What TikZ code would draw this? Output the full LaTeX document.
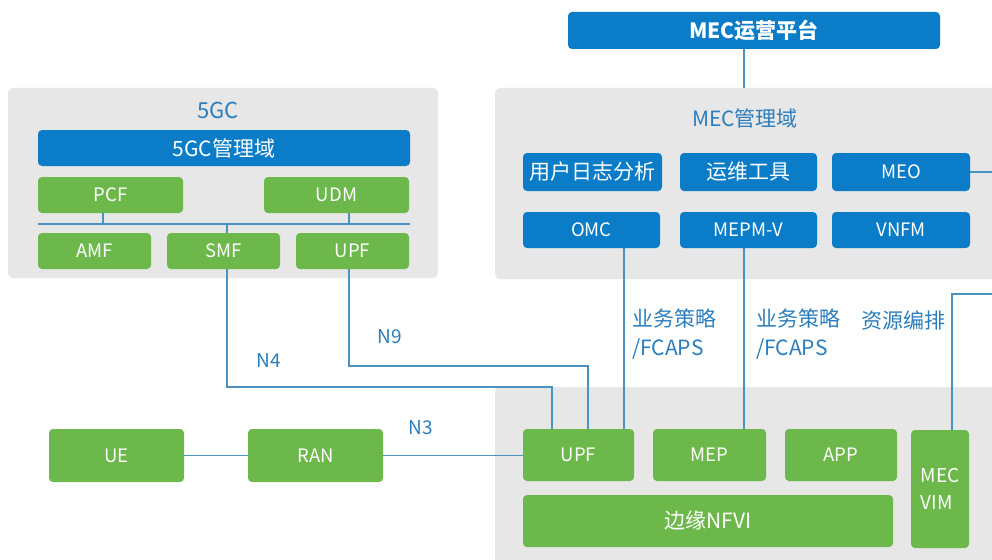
\documentclass[tikz,border=0pt]{standalone}
\usepackage{fontspec}
\setmainfont{Noto Sans CJK SC}
\usetikzlibrary{calc}
\definecolor{mblue}{HTML}{0B7DC8}
\definecolor{mgreen}{HTML}{6DB84B}
\definecolor{mgrey}{HTML}{E7E7E7}
\definecolor{mline}{HTML}{4A92C2}
\definecolor{mtext}{HTML}{2B7EBD}
\tikzset{
  panel/.style={fill=mgrey, draw=none, rounded corners=5pt, inner sep=0pt},
  bluebox/.style={fill=mblue, draw=none, rounded corners=4pt, inner sep=0pt, text=white, font=\fontsize{18.5}{22}\selectfont},
  greenbox/.style={fill=mgreen, draw=none, rounded corners=4pt, inner sep=0pt, text=white, font=\fontsize{18.5}{22}\selectfont},
  cjk/.style={font=\fontsize{21}{24}\selectfont},
  lbl/.style={text=mtext, inner sep=0pt, font=\fontsize{19}{29}\selectfont},
  cjklbl/.style={text=mtext, inner sep=0pt, font=\fontsize{21}{29}\selectfont},
  conn/.style={draw=mline, line width=1.1pt},
}
\begin{document}
\begin{tikzpicture}[x=1pt,y=-1pt]
\useasboundingbox (0,0) rectangle (992,559);
\fill[white] (0,0) rectangle (992,559);
% panels
\node[panel, minimum width=430, minimum height=190] (bg5gc) at (223,183) {};
\node[panel, minimum width=520, minimum height=191] (bgmec) at (755,183.5) {};
\node[panel, minimum width=520, minimum height=188] (bgedge) at (755,481) {};
% 5GC
\node[lbl, font=\fontsize{22}{24}\selectfont] (t5gc) at (218,110) {5GC};
\node[bluebox, cjk, minimum width=372, minimum height=36] (mgmt5) at (224,148) {5GC管理域};
\node[greenbox, minimum width=145, minimum height=36] (pcf) at (110.5,195) {PCF};
\node[greenbox, minimum width=145, minimum height=36] (udm) at (336.5,195) {UDM};
\node[greenbox, minimum width=113, minimum height=36] (amf) at (94.5,251) {AMF};
\node[greenbox, minimum width=113, minimum height=36] (smf) at (223.5,251) {SMF};
\node[greenbox, minimum width=113, minimum height=36] (upfc) at (352.5,251) {UPF};
\coordinate (busL) at (38,224);
\coordinate (busR) at (410,224);
\draw[conn] (busL) -- (busR);
\draw[conn] ([xshift=-7.5]pcf.south) -- ([xshift=-7.5]pcf.south |- busL);
\draw[conn] ([xshift=12.5]udm.south) -- ([xshift=12.5]udm.south |- busL);
\draw[conn] ([xshift=3.5]smf.north) -- ([xshift=3.5]smf.north |- busL);
% MEC
\node[bluebox, minimum width=372, minimum height=37, font=\fontsize{21}{24}\selectfont\bfseries] (mecop) at (754,30.5) {MEC运营平台};
\node[cjklbl] (tmec) at (745,118) {MEC管理域};
\node[bluebox, cjk, minimum width=139, minimum height=38] (log) at (592.5,172) {用户日志分析};
\node[bluebox, cjk, minimum width=137, minimum height=38] (ops) at (748.5,172) {运维工具};
\node[bluebox, minimum width=138, minimum height=38] (meo) at (901,172) {MEO};
\node[bluebox, minimum width=137, minimum height=36] (omc) at (591.5,230) {OMC};
\node[bluebox, minimum width=137, minimum height=36] (mepmv) at (748.5,230) {MEPM-V};
\node[bluebox, minimum width=138, minimum height=36] (vnfm) at (901,230) {VNFM};
\draw[conn] ([xshift=-10]mecop.south) -- ([xshift=-10]mecop.south |- bgmec.north);
\coordinate (meoR) at (1000,172);
\draw[conn] (meo.east) -- (meoR);
% edge
\node[greenbox, minimum width=111, minimum height=52] (upfe) at (578.5,455) {UPF};
\node[greenbox, minimum width=113, minimum height=52] (mep) at (709.5,455) {MEP};
\node[greenbox, minimum width=112, minimum height=52] (app) at (841,455) {APP};
\node[greenbox, minimum width=58, minimum height=118, align=left, font=\fontsize{19}{27}\selectfont] (vim) at (940,489) {MEC\\VIM};
\node[greenbox, cjk, minimum width=370, minimum height=52] (nfvi) at (708,521) {边缘NFVI};
\node[greenbox, minimum width=135, minimum height=53] (ue) at (116.5,455.5) {UE};
\node[greenbox, minimum width=135, minimum height=53] (ran) at (315.5,455.5) {RAN};
% connectors
\draw[conn] (ue.east) -- (ran.west);
\draw[conn] (ran.east) -- (upfe.west |- ran.east);
\coordinate (n4c) at (552,387);
\draw[conn] ([xshift=3.5]smf.south) |- (n4c) -- (n4c |- upfe.north);
\coordinate (n9c) at (588,366);
\draw[conn] ([xshift=-3.5]upfc.south) |- (n9c) -- (n9c |- upfe.north);
\draw[conn] ([xshift=32.5]omc.south) -- ([xshift=32.5]omc.south |- upfe.north);
\draw[conn] ([xshift=-4.5]mepmv.south) -- ([xshift=-4.5]mepmv.south |- mep.north);
\coordinate (vimR) at (1000,294);
\draw[conn] (vimR) -| ([xshift=12]vim.north);
% labels
\node[lbl] (ln4) at (269,361) {N4};
\node[lbl] (ln9) at (390,337) {N9};
\node[lbl] (ln3) at (421,428) {N3};
\node[cjklbl, anchor=west, align=left] (lp1) at (632,334) {业务策略\\/FCAPS};
\node[cjklbl, anchor=west, align=left] (lp2) at (756,334) {业务策略\\/FCAPS};
\node[cjklbl, anchor=west] (lres) at (861,320) {资源编排};
\end{tikzpicture}
\end{document}
